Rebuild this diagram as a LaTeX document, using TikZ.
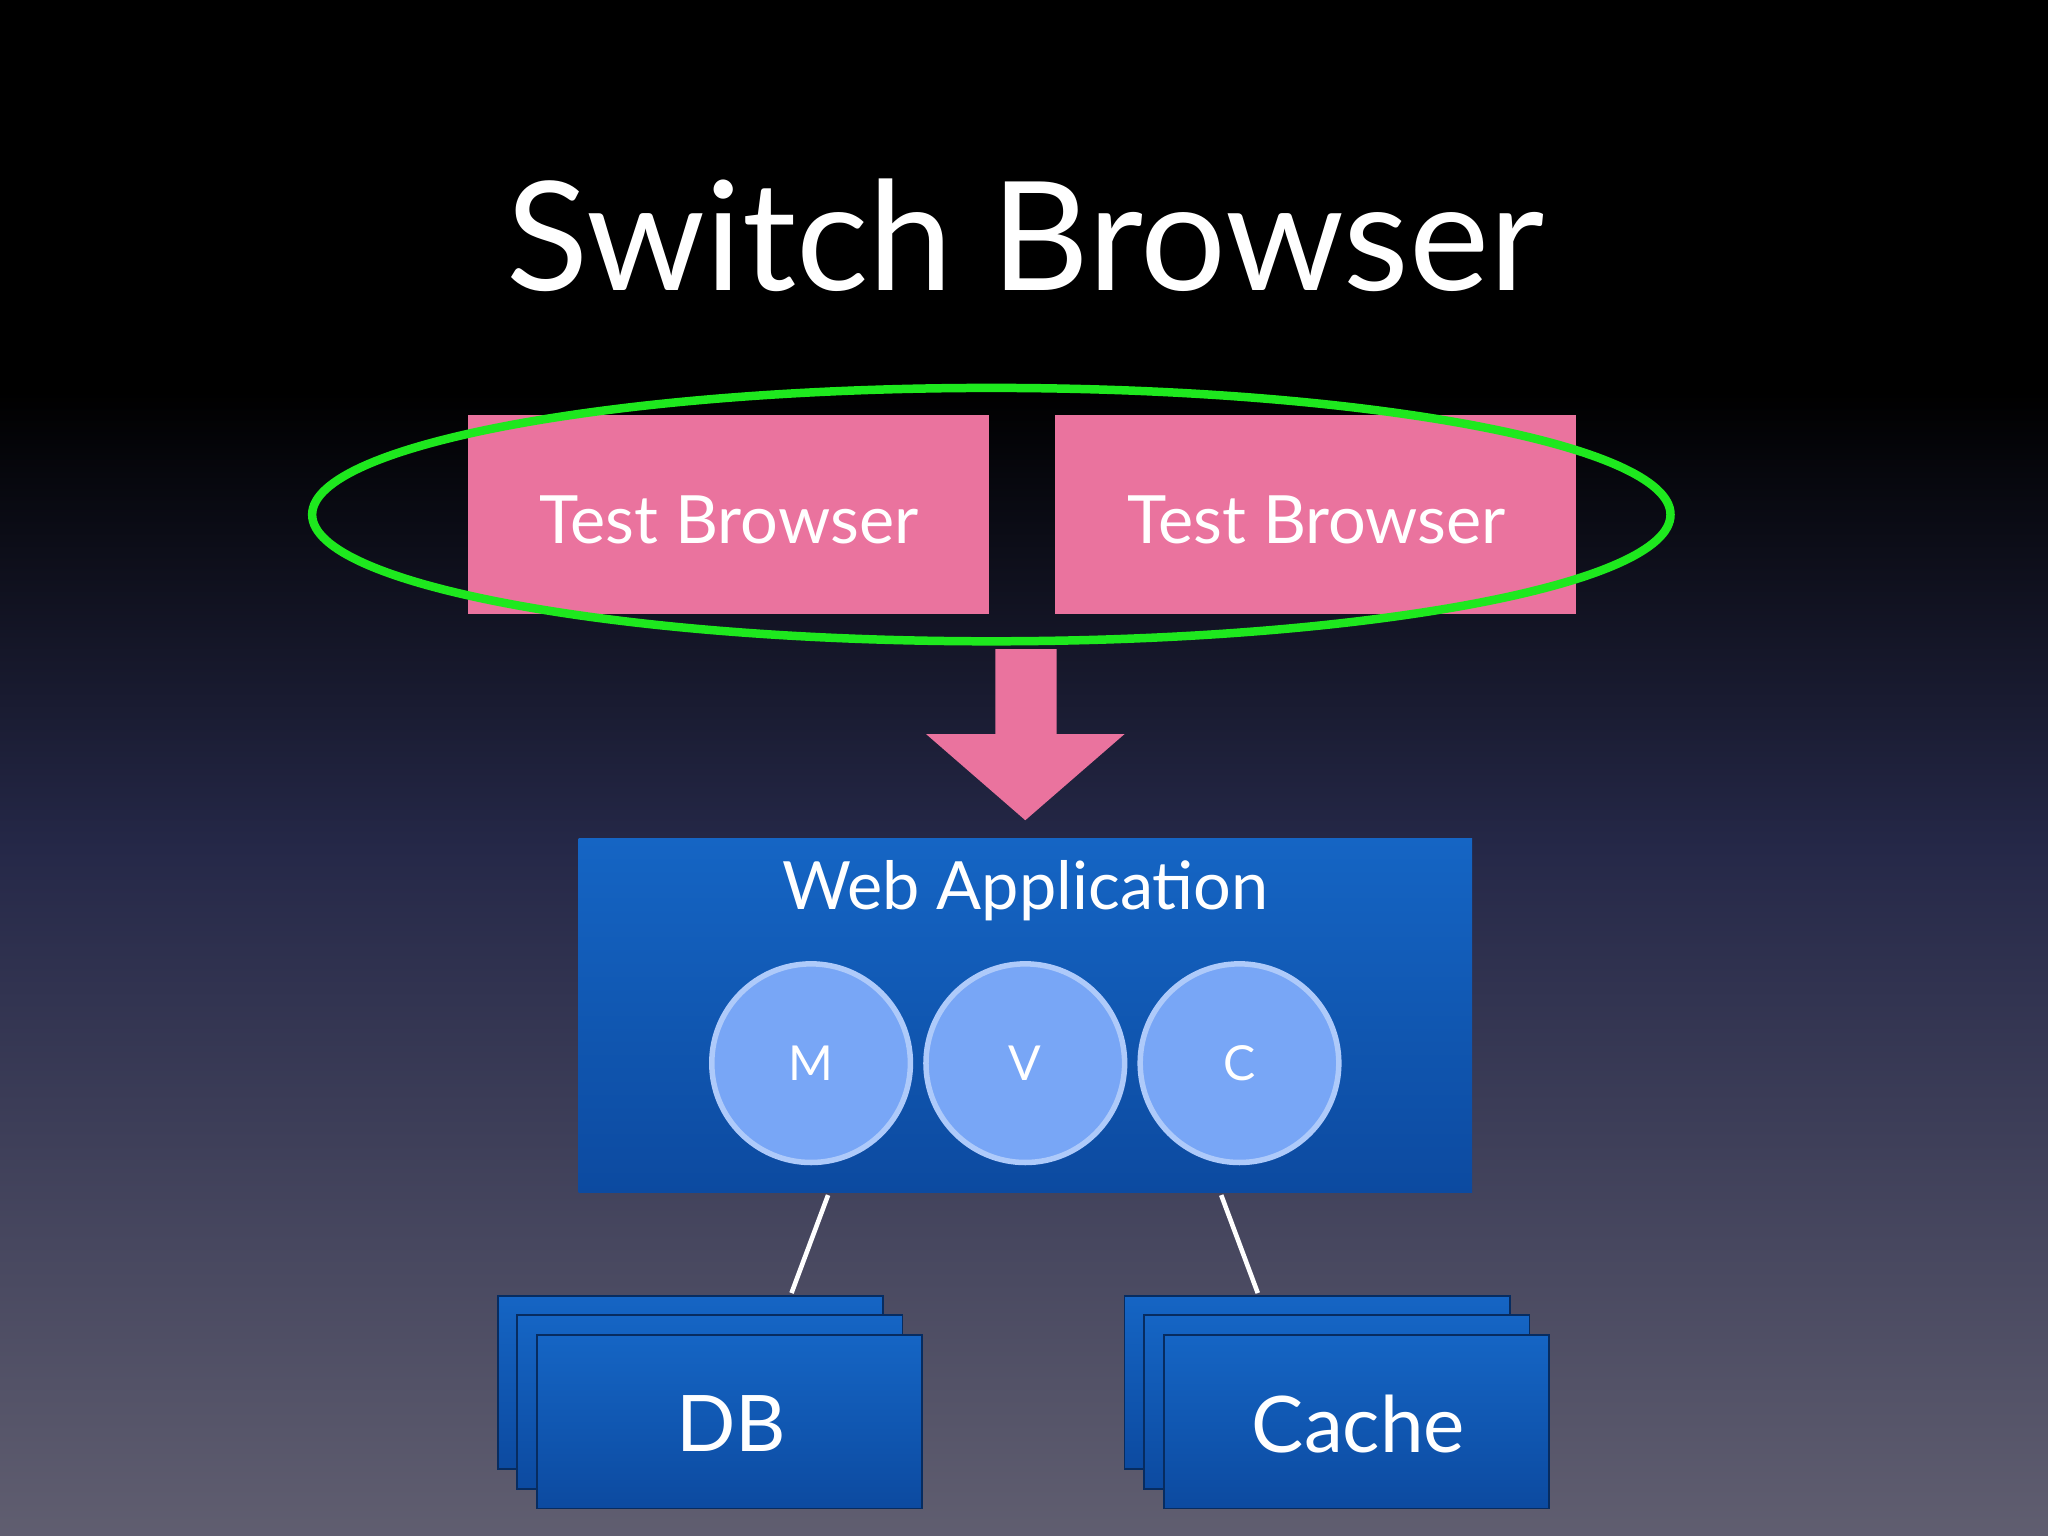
\documentclass[tikz,border=0pt]{standalone}
\usepackage{fontspec}
\setmainfont{Lato}
\begin{document}
\begin{tikzpicture}[x=0.01cm,y=-0.01cm,
  mvc/.style={circle,fill=circc,draw=circc!60!white,line width=1.2pt,minimum size=1.52cm,inner sep=0pt,text=white,font=\fontsize{10.5}{12}\selectfont},
  lbl/.style={text=white},
  conn/.style={draw=white,line width=1pt}]
\definecolor{pinkc}{HTML}{EA739E}
\definecolor{blueT}{HTML}{1565C4}
\definecolor{blueB}{HTML}{0C4AA0}
\definecolor{circc}{HTML}{78A6F6}
\definecolor{greenc}{HTML}{1EE81E}
\definecolor{bgB}{HTML}{605E70}
\definecolor{bgM}{HTML}{252848}
\useasboundingbox (0,0) rectangle (1568,1176);
\fill[black] (0,0) rectangle (1568,300);
\shade[top color=black,bottom color=bgM] (0,300) rectangle (1568,650);
\shade[top color=bgM,bottom color=bgB] (0,649) rectangle (1568,1176);
\node[lbl,font=\fontsize{33}{40}\selectfont] (title) at (785,180) {Switch Browser};
\fill[pinkc] (358,318) rectangle (757,470);
\fill[pinkc] (808,318) rectangle (1207,470);
\node[lbl,font=\fontsize{14.5}{20}\selectfont] (tb1) at (558,398) {Test Browser};
\node[lbl,font=\fontsize{14.5}{20}\selectfont] (tb2) at (1008,398) {Test Browser};
\draw[greenc,line width=0.065cm] (759,394) ellipse [x radius=520, y radius=97];
\fill[pinkc] (762,497) -- (809,497) -- (809,562) -- (861,562) -- (785,628) -- (709,562) -- (762,562) -- cycle;
\shade[top color=blueT,bottom color=blueB] (443,642) rectangle (1127,913);
\node[lbl,font=\fontsize{14.5}{20}\selectfont] (web) at (785,682) {Web Application};
\node[mvc] (m) at (621,814) {M};
\node[mvc] (v) at (785,814) {V};
\node[mvc] (c) at (949,814) {C};
\coordinate (wa1) at (634,915); \coordinate (wa2) at (935,915);
\foreach \d in {0,15,30}{
  \shade[top color=blueT,bottom color=blueB,draw=blueB!60!black] (381+\d,992+\d) rectangle (676+\d,1125+\d);
  \shade[top color=blueT,bottom color=blueB,draw=blueB!60!black] (861+\d,992+\d) rectangle (1156+\d,1125+\d);
}
\node[lbl,font=\fontsize{17}{22}\selectfont] (db) at (560,1090) {DB};
\node[lbl,font=\fontsize{17}{22}\selectfont] (cache) at (1040,1090) {Cache};
\coordinate (dbt) at (606,990); \coordinate (ct) at (963,990);
\draw[conn] (wa1) -- (dbt);
\draw[conn] (wa2) -- (ct);
\end{tikzpicture}
\end{document}
